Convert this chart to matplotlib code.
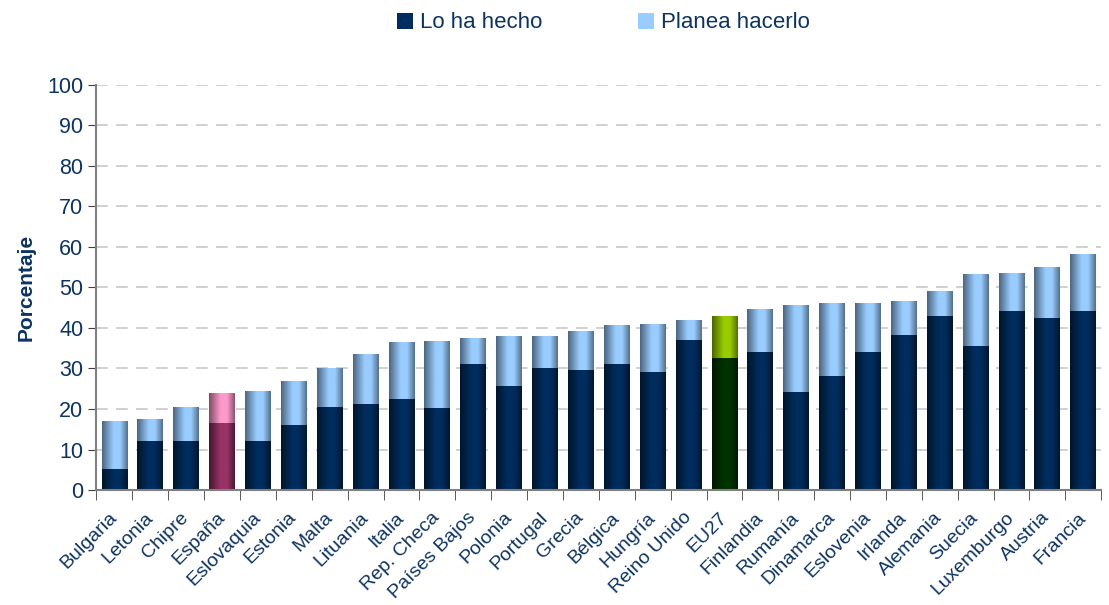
import matplotlib.pyplot as plt
import numpy as np
from matplotlib.colors import LinearSegmentedColormap
from matplotlib.patches import Patch

countries = ['Bulgaria', 'Letonia', 'Chipre', 'España', 'Eslovaquia', 'Estonia',
             'Malta', 'Lituania', 'Italia', 'Rep. Checa', 'Países Bajos', 'Polonia',
             'Portugal', 'Grecia', 'Bélgica', 'Hungría', 'Reino Unido', 'EU27',
             'Finlandia', 'Rumanía', 'Dinamarca', 'Eslovenia', 'Irlanda', 'Alemania',
             'Suecia', 'Luxemburgo', 'Austria', 'Francia']
done = [5.2, 12, 12, 16.5, 12, 16, 20.5, 21.2, 22.5, 20.2, 31, 25.7,
        30, 29.5, 31, 29.2, 37, 32.5, 34, 24.2, 28.2, 34, 38.2, 43,
        35.5, 44.2, 42.5, 44.2]
total = [17, 17.5, 20.5, 24, 24.5, 27, 30.2, 33.6, 36.5, 36.8, 37.5, 38,
         38, 39.2, 40.8, 41, 42, 43, 44.7, 45.7, 46.2, 46.2, 46.7, 49,
         53.2, 53.6, 55, 58.2]
planned = [t - d for t, d in zip(total, done)]

text_col = '#0d3360'
plt.rcParams['font.family'] = ['Liberation Sans', 'DejaVu Sans']

fig = plt.figure(figsize=(11.09, 6.05), dpi=100)
ax = fig.add_axes([0.087, 0.19, 0.906, 0.67])

x = np.arange(len(countries))
dark_cols = ['#002d5e'] * len(countries)
light_cols = ['#99ccff'] * len(countries)
dark_cols[3], light_cols[3] = '#993366', '#ff99cc'
dark_cols[17], light_cols[17] = '#003300', '#99cc00'

b1 = ax.bar(x, done, 0.72, color=dark_cols, zorder=2)
b2 = ax.bar(x, planned, 0.72, bottom=done, color=light_cols, zorder=2)


def shade(c, f):
    c = np.array(plt.matplotlib.colors.to_rgb(c))
    return tuple(c * f)


def grad_cmap(c, edge):
    return LinearSegmentedColormap.from_list(
        'g', [(0, shade(c, edge)), (0.45, c), (0.7, c), (1, shade(c, edge + 0.05))])


# horizontal gradient on every bar, clipped to the bar shape
grad = np.linspace(0, 1, 64)[np.newaxis, :]
for bars, cols, edge in ((b1, dark_cols, 0.45), (b2, light_cols, 0.5)):
    for p, c in zip(bars, cols):
        im = ax.imshow(grad, extent=[p.get_x(), p.get_x() + p.get_width(),
                                     p.get_y(), p.get_y() + p.get_height()],
                       aspect='auto', cmap=grad_cmap(c, edge), zorder=2.1)
        im.set_clip_path(p)

ax.set_xlim(-0.5, len(countries) - 0.5)
ax.set_ylim(0, 100)
ax.set_yticks(range(0, 101, 10))
ax.yaxis.grid(True, color='#c8c8c8', linestyle=(0, (7, 5)), linewidth=1.2, zorder=0)
ax.set_axisbelow(True)

ax.set_xticks(x)
ax.set_xticklabels(countries, rotation=45, ha='right', va='center',
                   rotation_mode='anchor', fontsize=14, color=text_col)
ax.tick_params(axis='x', length=0, pad=18)
ax.set_xticks(np.arange(len(countries) + 1) - 0.5, minor=True)
ax.tick_params(axis='x', which='minor', length=7, direction='out', color='#404040')
ax.tick_params(axis='y', labelsize=15.5, labelcolor=text_col, length=6,
               color='#404040', direction='out')

for s in ('top', 'right'):
    ax.spines[s].set_visible(False)
ax.spines['left'].set_color('#808080')
ax.spines['left'].set_linewidth(1.5)
ax.spines['bottom'].set_color('#808080')
ax.spines['bottom'].set_linewidth(1.5)

ax.set_ylabel('Porcentaje', fontsize=15, fontweight='bold', color=text_col, labelpad=8)

handles = [Patch(facecolor='#002d5e', edgecolor='none'),
           Patch(facecolor='#99ccff', edgecolor='none')]
leg = fig.legend(handles, ['Lo ha hecho', 'Planea hacerlo'], loc='center',
                 bbox_to_anchor=(0.544, 0.962), ncol=2, frameon=False, fontsize=16,
                 handlelength=0.75, handleheight=0.75, handletextpad=0.3,
                 columnspacing=4.3, labelcolor=text_col)

fig.savefig('out.png', dpi=100)
